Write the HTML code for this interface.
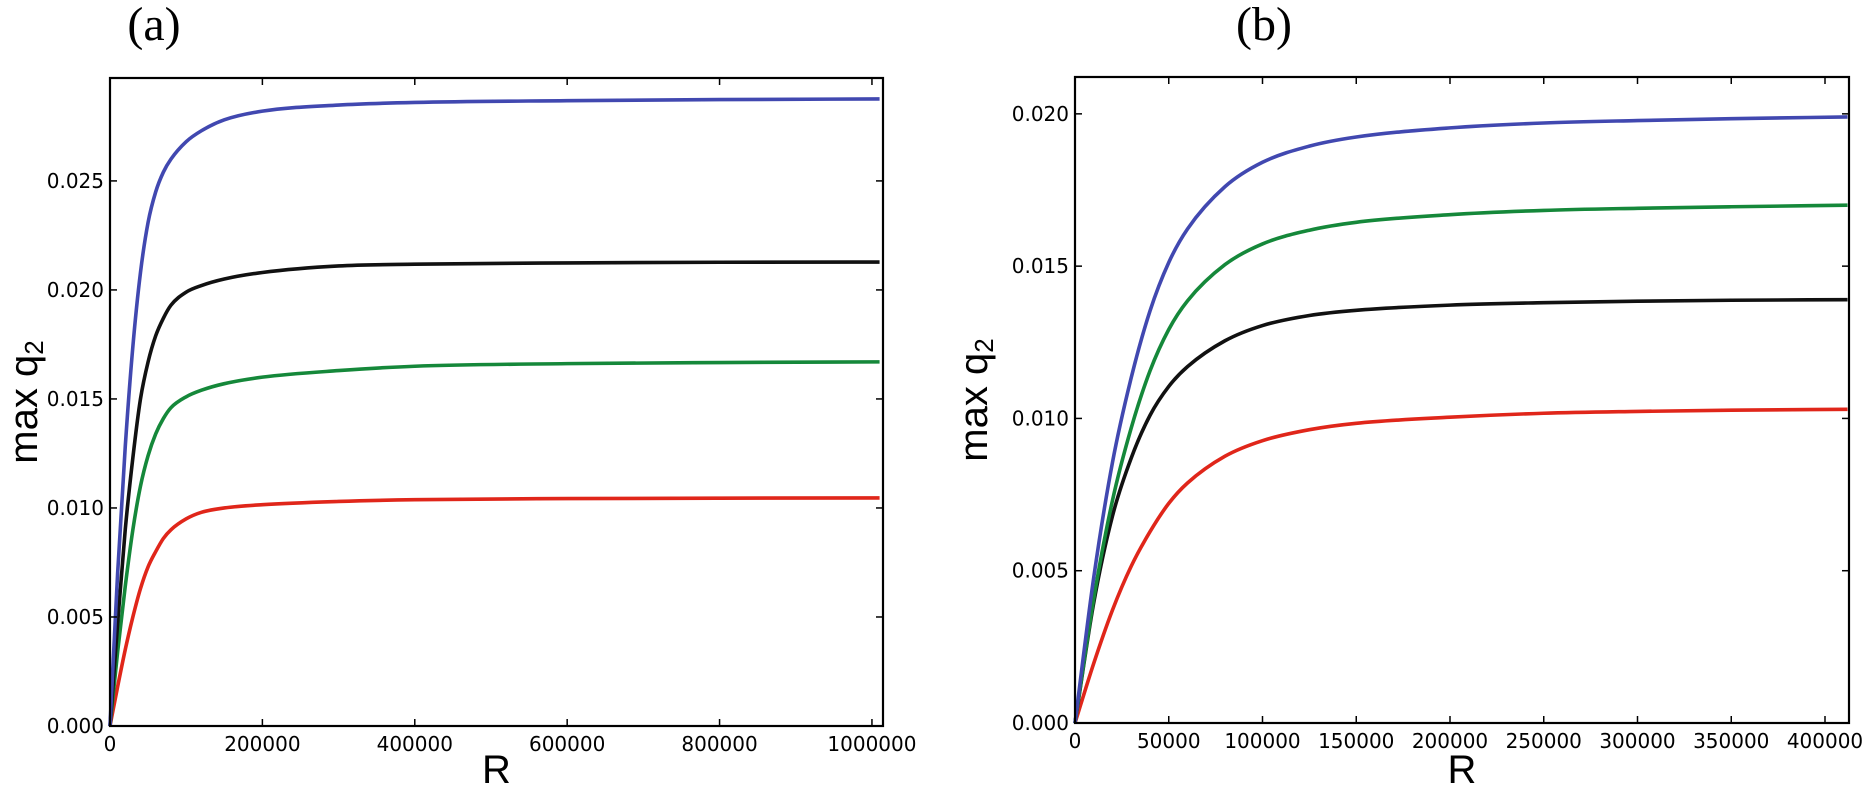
<!DOCTYPE html>
<html><head><meta charset="utf-8"><style>
html,body{margin:0;padding:0;background:#fff;}
svg{display:block;}
</style></head><body>
<svg id="fig" width="1867" height="788" viewBox="0 0 1867 788" xmlns="http://www.w3.org/2000/svg">
<text x="154" y="40" text-anchor="middle" font-family="'Liberation Serif', serif" font-size="48">(a)</text>
<text x="1264" y="40" text-anchor="middle" font-family="'Liberation Serif', serif" font-size="48">(b)</text>
</svg>
<script>
// Panel (a) data
const aX = [0,10000,20000,30000,40000,50000,60000,70000,80000,100000,120000,150000,200000,300000,400000,600000,800000,1010000];
const aBlue =  [0,0.0070,0.0128,0.0174,0.0208,0.0231,0.0245,0.0254,0.0260,0.0268,0.0273,0.0278,0.0282,0.02848,0.0286,0.02868,0.02873,0.02876];
const aBlack = [0,0.0047,0.0090,0.0123,0.0150,0.0167,0.0179,0.0187,0.0193,0.0199,0.0202,0.0205,0.0208,0.0211,0.02118,0.02124,0.02127,0.02128];
const aGreen = [0,0.0034,0.0064,0.0090,0.0110,0.0124,0.0134,0.0141,0.0146,0.0151,0.0154,0.0157,0.0160,0.01630,0.01650,0.01662,0.01667,0.0167];
const aRed =   [0,0.0018,0.0035,0.0050,0.0063,0.0073,0.0080,0.0086,0.0090,0.0095,0.0098,0.0100,0.01015,0.0103,0.01038,0.01043,0.01045,0.01046];
const aXTicks = [0,200000,400000,600000,800000,1000000];
const aYTicks = [0,0.005,0.010,0.015,0.020,0.025];
const aXLabels = ["0","200000","400000","600000","800000","1000000"];
const aYLabels = ["0.000","0.005","0.010","0.015","0.020","0.025"];
// Panel (b) data
const bX = [0,10000,20000,30000,40000,50000,60000,80000,100000,125000,150000,200000,250000,300000,350000,412000];
const bBlue =  [0,0.00478,0.00856,0.01134,0.01353,0.01512,0.01622,0.01761,0.01841,0.01894,0.01924,0.01954,0.0197,0.01978,0.01984,0.0199];
const bGreen = [0,0.00408,0.00731,0.00969,0.01156,0.01292,0.01386,0.01505,0.01573,0.01618,0.01644,0.01669,0.01683,0.0169,0.01695,0.0170];
const bBlack = [0,0.00395,0.00680,0.00870,0.01010,0.01105,0.01170,0.01255,0.01305,0.01338,0.01355,0.01372,0.01380,0.01385,0.01388,0.0139];
const bRed =   [0,0.00196,0.00371,0.00515,0.00628,0.00721,0.00788,0.00876,0.00927,0.00963,0.00984,0.01004,0.01017,0.01023,0.01027,0.0103];
const bXTicks = [0,50000,100000,150000,200000,250000,300000,350000,400000];
const bYTicks = [0,0.005,0.010,0.015,0.020];
const bXLabels = ["0","50000","100000","150000","200000","250000","300000","350000","400000"];
const bYLabels = ["0.000","0.005","0.010","0.015","0.020"];

const NS = "http://www.w3.org/2000/svg";
const svg = document.getElementById('fig');
function mk(tag, attrs, parent){const e=document.createElementNS(NS,tag);for(const k in attrs)e.setAttribute(k,attrs[k]);(parent||svg).appendChild(e);return e;}

function monoPath(px, py){
  const n=px.length; const d=[],m=new Array(n);
  for(let i=0;i<n-1;i++) d.push((py[i+1]-py[i])/(px[i+1]-px[i]));
  m[0]=d[0]; m[n-1]=d[n-2];
  for(let i=1;i<n-1;i++){ m[i]=(d[i-1]*d[i]<=0)?0:(d[i-1]+d[i])/2; }
  for(let i=0;i<n-1;i++){ if(d[i]===0){m[i]=0;m[i+1]=0;continue;} const a=m[i]/d[i],b=m[i+1]/d[i],s=a*a+b*b; if(s>9){const t=3/Math.sqrt(s);m[i]=t*a*d[i];m[i+1]=t*b*d[i];} }
  let p="M"+px[0]+","+py[0];
  for(let i=0;i<n-1;i++){const h=(px[i+1]-px[i])/3; p+=" C"+(px[i]+h)+","+(py[i]+m[i]*h)+" "+(px[i+1]-h)+","+(py[i+1]-m[i+1]*h)+" "+px[i+1]+","+py[i+1];}
  return p;
}

function panel(cfg){
  const g=mk('g',{});
  
  
  const xs=v=>cfg.L+(v-cfg.x0)/(cfg.x1-cfg.x0)*(cfg.R-cfg.L);
  const ys=v=>cfg.B-(v-cfg.y0)/(cfg.y1-cfg.y0)*(cfg.B-cfg.T);
  const ff="'DejaVu Sans', sans-serif";
  cfg.series.forEach(s=>{
    const px=cfg.xdata.map(xs), py=s.v.map(ys);
    const p=mk('path',{d:monoPath(px,py),fill:'none',stroke:s.c,'stroke-width':3.6,'stroke-linejoin':'round'},g);
    
    
  });
  const fr=mk('rect',{x:cfg.L,y:cfg.T,width:cfg.R-cfg.L,height:cfg.B-cfg.T,fill:'none',stroke:'#000','stroke-width':2.2},g);
  
  
  cfg.xt.forEach((v,i)=>{
    const x=xs(v);
    mk('line',{x1:x,y1:cfg.B,x2:x,y2:cfg.B-7,stroke:'#000','stroke-width':1.5},g);
    mk('line',{x1:x,y1:cfg.T,x2:x,y2:cfg.T+7,stroke:'#000','stroke-width':1.5},g);
    const t=mk('text',{x:x,y:cfg.B+25,'text-anchor':'middle','font-family':ff,'font-size':20},g);
    t.textContent=cfg.xl[i];
    
    
  });
  cfg.yt.forEach((v,i)=>{
    const y=ys(v);
    mk('line',{x1:cfg.L,y1:y,x2:cfg.L+7,y2:y,stroke:'#000','stroke-width':1.5},g);
    mk('line',{x1:cfg.R,y1:y,x2:cfg.R-7,y2:y,stroke:'#000','stroke-width':1.5},g);
    const t=mk('text',{x:cfg.L-6,y:y+7,'text-anchor':'end','font-family':ff,'font-size':20},g);
    t.textContent=cfg.yl[i];
    
    
  });
  const xt=mk('text',{x:(cfg.L+cfg.R)/2,y:783,'text-anchor':'middle','font-family':"'Liberation Sans', sans-serif",'font-size':40},g);
  xt.textContent='R';
  
  
  const yt=mk('text',{x:0,y:0,'text-anchor':'middle','font-family':"'Liberation Sans', sans-serif",'font-size':40,transform:'translate('+cfg.yx+','+((cfg.T+cfg.B)/2)+') rotate(-90)'},g);
  yt.textContent='max q';
  const sub=mk('tspan',{'font-size':26,dy:6},yt);
  sub.textContent='2';
  
  
}

panel({name:'panel-a',L:110,R:883,T:78,B:726,x0:0,x1:1014500,y0:0,y1:0.02972,
  xdata:aX,xt:aXTicks,yt:aYTicks,xl:aXLabels,yl:aYLabels,yx:37,
  series:[{n:'series-red',c:'#e0261a',v:aRed},{n:'series-green',c:'#15883a',v:aGreen},{n:'series-black',c:'#111111',v:aBlack},{n:'series-blue',c:'#4148b0',v:aBlue}]});
panel({name:'panel-b',L:1075,R:1849,T:77,B:723,x0:0,x1:412800,y0:0,y1:0.02121,
  xdata:bX,xt:bXTicks,yt:bYTicks,xl:bXLabels,yl:bYLabels,yx:987,
  series:[{n:'series-red',c:'#e0261a',v:bRed},{n:'series-black',c:'#111111',v:bBlack},{n:'series-green',c:'#15883a',v:bGreen},{n:'series-blue',c:'#4148b0',v:bBlue}]});
</script>
</body></html>
